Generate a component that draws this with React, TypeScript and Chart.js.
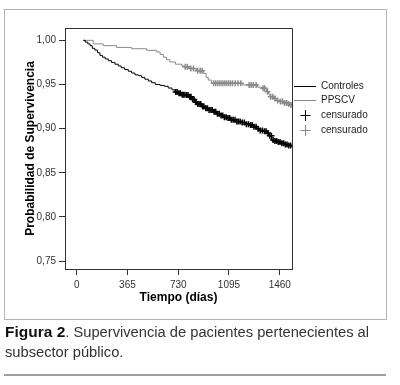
import React, { useEffect, useRef } from "react";
import { Chart, registerables } from "chart.js";

Chart.register(...registerables);

// Kaplan-Meier steps: [days, survival]
const controlesSteps: [number, number][] = [
  [47, 1.0], [62, 0.998], [80, 0.996], [96, 0.994], [112, 0.991], [130, 0.989], [150, 0.986],
  [167, 0.983], [185, 0.981], [205, 0.979], [227, 0.977], [250, 0.975], [275, 0.973],
  [299, 0.971], [320, 0.969], [345, 0.967], [371, 0.965], [395, 0.963], [419, 0.961],
  [443, 0.96], [467, 0.958], [490, 0.956], [515, 0.954], [539, 0.952], [565, 0.95],
  [599, 0.949], [630, 0.948], [658, 0.946], [685, 0.944], [706, 0.9415], [730, 0.94],
  [754, 0.9385], [780, 0.938], [802, 0.936], [825, 0.933], [850, 0.93], [870, 0.928],
  [898, 0.925], [920, 0.923], [950, 0.921], [982, 0.919], [1010, 0.917], [1030, 0.915],
  [1053, 0.913], [1080, 0.912], [1110, 0.91], [1149, 0.908], [1180, 0.907], [1210, 0.905],
  [1245, 0.904], [1270, 0.902], [1295, 0.9], [1317, 0.898], [1340, 0.897], [1365, 0.895],
  [1380, 0.892], [1401, 0.887], [1420, 0.886], [1445, 0.885], [1473, 0.8835], [1500, 0.882],
  [1525, 0.881], [1545, 0.8797], [1550, 0.8797],
];

const ppscvSteps: [number, number][] = [
  [47, 1.0], [119, 0.996], [191, 0.994], [287, 0.992], [395, 0.9905], [503, 0.9887],
  [575, 0.9868], [600, 0.984], [623, 0.981], [645, 0.978], [670, 0.9755], [710, 0.973],
  [754, 0.9717], [766, 0.97], [810, 0.968], [862, 0.9656], [910, 0.9627], [930, 0.958],
  [946, 0.955], [970, 0.9514], [1190, 0.9495], [1300, 0.947], [1329, 0.9457], [1365, 0.9419],
  [1380, 0.939], [1389, 0.9362], [1420, 0.934], [1440, 0.932], [1461, 0.9306], [1490, 0.929],
  [1515, 0.928], [1533, 0.9268], [1545, 0.9257], [1550, 0.9257],
];

// censored observation times (days)
const controlesCensored = [
  712, 722, 735, 745, 758, 768, 778, 790, 800, 812, 822, 835, 845, 858, 870, 880, 892, 905,
  915, 928, 940, 952, 965, 975, 988, 1000, 1012, 1025, 1038, 1050, 1062, 1075, 1088, 1100,
  1112, 1125, 1138, 1150, 1162, 1175, 1190, 1205, 1220, 1235, 1250, 1262, 1275, 1290, 1305,
  1320, 1335, 1350, 1362, 1375, 1388, 1400, 1412, 1425, 1438, 1450, 1462, 1475, 1488, 1500,
  1512, 1525, 1538,
];
const ppscvCensored = [
  780, 795, 820, 840, 870, 888, 902, 985, 1000, 1015, 1030, 1045, 1060, 1075, 1090, 1105,
  1120, 1140, 1160, 1180, 1240, 1255, 1270, 1290, 1340, 1352, 1372, 1395, 1410, 1425, 1445,
  1465, 1480, 1495, 1510, 1525, 1540,
];

const xTicks = [0, 365, 730, 1095, 1460];
const yTicks = [0.75, 0.8, 0.85, 0.9, 0.95, 1.0];

const legendLabels = ["Controles", "PPSCV", "censurado", "censurado"];

const BLACK = "#000000";
const GRAY = "#8a8a8a";

function survivalAt(steps: [number, number][], t: number) {
  let v = steps[0][1];
  for (const [d, s] of steps) {
    if (d <= t) v = s;
  }
  return v;
}

const legendPlugin = {
  id: "kmLegend",
  afterDraw(chart: any) {
    const { ctx, chartArea } = chart;
    ctx.save();
    // plot frame top/right
    ctx.strokeStyle = "#333";
    ctx.lineWidth = 1;
    ctx.beginPath();
    ctx.moveTo(Math.round(chartArea.left) + 0.5, Math.round(chartArea.top) + 0.5);
    ctx.lineTo(Math.round(chartArea.right) + 0.5, Math.round(chartArea.top) + 0.5);
    ctx.lineTo(Math.round(chartArea.right) + 0.5, Math.round(chartArea.bottom) + 0.5);
    ctx.stroke();

    const x0 = chartArea.right + 2;
    const rows = [86, 100, 115, 130];
    const colors = [BLACK, GRAY, BLACK, GRAY];
    ctx.font = '10px "Liberation Sans", Arial, sans-serif';
    ctx.textBaseline = "middle";
    ctx.textAlign = "left";
    rows.forEach((y, i) => {
      ctx.strokeStyle = colors[i];
      ctx.lineWidth = 1;
      ctx.beginPath();
      if (i < 2) {
        ctx.moveTo(x0, y + 0.5);
        ctx.lineTo(x0 + 22, y + 0.5);
      } else {
        const cx = x0 + 11.5;
        ctx.moveTo(cx - 5, y + 0.5);
        ctx.lineTo(cx + 5, y + 0.5);
        ctx.moveTo(cx, y - 5);
        ctx.lineTo(cx, y + 6);
      }
      ctx.stroke();
      ctx.fillStyle = "#222";
      ctx.fillText(legendLabels[i], x0 + 27, y + 0.5);
    });
    ctx.restore();
  },
};

function ChartView() {
  const ref = useRef<HTMLCanvasElement | null>(null);
  useEffect(() => {
    if (!ref.current) return;
    const toPts = (s: [number, number][]) => s.map(([x, y]) => ({ x, y }));
    const chart = new Chart(ref.current, {
      type: "line",
      data: {
        datasets: [
          {
            label: legendLabels[0],
            data: toPts(controlesSteps),
            borderColor: BLACK,
            borderWidth: 1,
            stepped: "before",
            pointRadius: 0,
            fill: false,
          },
          {
            label: legendLabels[1],
            data: toPts(ppscvSteps),
            borderColor: GRAY,
            borderWidth: 1,
            stepped: "before",
            pointRadius: 0,
            fill: false,
          },
          {
            label: legendLabels[2],
            data: controlesCensored.map((t) => ({ x: t, y: survivalAt(controlesSteps, t) })),
            showLine: false,
            pointStyle: "cross",
            pointRadius: 3,
            pointBorderWidth: 1.5,
            borderColor: BLACK,
            pointBorderColor: BLACK,
          },
          {
            label: legendLabels[3],
            data: ppscvCensored.map((t) => ({ x: t, y: survivalAt(ppscvSteps, t) })),
            showLine: false,
            pointStyle: "cross",
            pointRadius: 3,
            pointBorderWidth: 1.5,
            borderColor: GRAY,
            pointBorderColor: GRAY,
          },
        ] as any,
      },
      options: {
        animation: false,
        responsive: false,
        maintainAspectRatio: false,
        layout: { padding: { left: 19, top: 28, right: 108, bottom: 76 } },
        plugins: { legend: { display: false }, tooltip: { enabled: false } },
        scales: {
          x: {
            type: "linear",
            min: -84,
            max: 1548,
            afterBuildTicks: (s: any) => {
              s.ticks = xTicks.map((v) => ({ value: v }));
            },
            afterFit: (s: any) => {
              s.height = 40;
            },
            ticks: {
              color: "#333",
              font: { family: '"Liberation Sans", Arial, sans-serif', size: 10 },
              padding: 4,
              maxRotation: 0,
              autoSkip: false,
              callback: (v: any) => String(v),
            },
            grid: { drawOnChartArea: false, drawTicks: true, tickLength: 6, color: "#333" },
            border: { display: true, color: "#333", width: 1 },
            title: {
              display: true,
              text: "Tiempo (días)",
              color: "#000",
              font: { family: '"Liberation Sans", Arial, sans-serif', size: 12, weight: "bold" },
              padding: { top: 4, bottom: 4 },
            },
          },
          y: {
            type: "linear",
            min: 0.741,
            max: 1.014,
            afterBuildTicks: (s: any) => {
              s.ticks = yTicks.map((v) => ({ value: v }));
            },
            afterFit: (s: any) => {
              s.width = 46;
            },
            ticks: {
              color: "#333",
              font: { family: '"Liberation Sans", Arial, sans-serif', size: 10 },
              padding: 3,
              autoSkip: false,
              callback: (v: any) => Number(v).toFixed(2).replace(".", ","),
            },
            grid: { drawOnChartArea: false, drawTicks: true, tickLength: 6, color: "#333" },
            border: { display: true, color: "#333", width: 1 },
            title: {
              display: true,
              text: "Probabilidad de Supervivencia",
              color: "#000",
              font: { family: '"Liberation Sans", Arial, sans-serif', size: 12, weight: "bold" },
              padding: { top: 4, bottom: 4 },
            },
          },
        },
      } as any,
      plugins: [legendPlugin],
    });
    return () => chart.destroy();
  }, []);
  return (
    <canvas
      ref={ref}
      width={400}
      height={385}
      style={{ position: "absolute", left: 0, top: 0, width: 400, height: 385 }}
    />
  );
}

export default function App() {
  return (
    <div style={{ position: "absolute", left: 0, top: 0, width: 400, height: 385, background: "#fff" }}>
      <div
        style={{
          position: "absolute",
          left: 4,
          top: 9,
          width: 381,
          height: 309,
          border: "1px solid #b5b5b5",
        }}
      />
      <ChartView />
      <div
        style={{
          position: "absolute",
          left: 5,
          top: 322,
          width: 390,
          fontFamily: '"Liberation Sans", Arial, sans-serif',
          fontSize: 14.7,
          lineHeight: "20px",
          color: "#333",
        }}
      >
        <span style={{ fontWeight: "bold", color: "#111", fontSize: 15.5 }}>Figura 2</span>. Supervivencia de
        pacientes pertenecientes al
        <br />
        subsector público.
      </div>
      <div
        style={{
          position: "absolute",
          left: 4,
          top: 374,
          width: 382,
          height: 2,
          background: "#a0a0a0",
        }}
      />
    </div>
  );
}
